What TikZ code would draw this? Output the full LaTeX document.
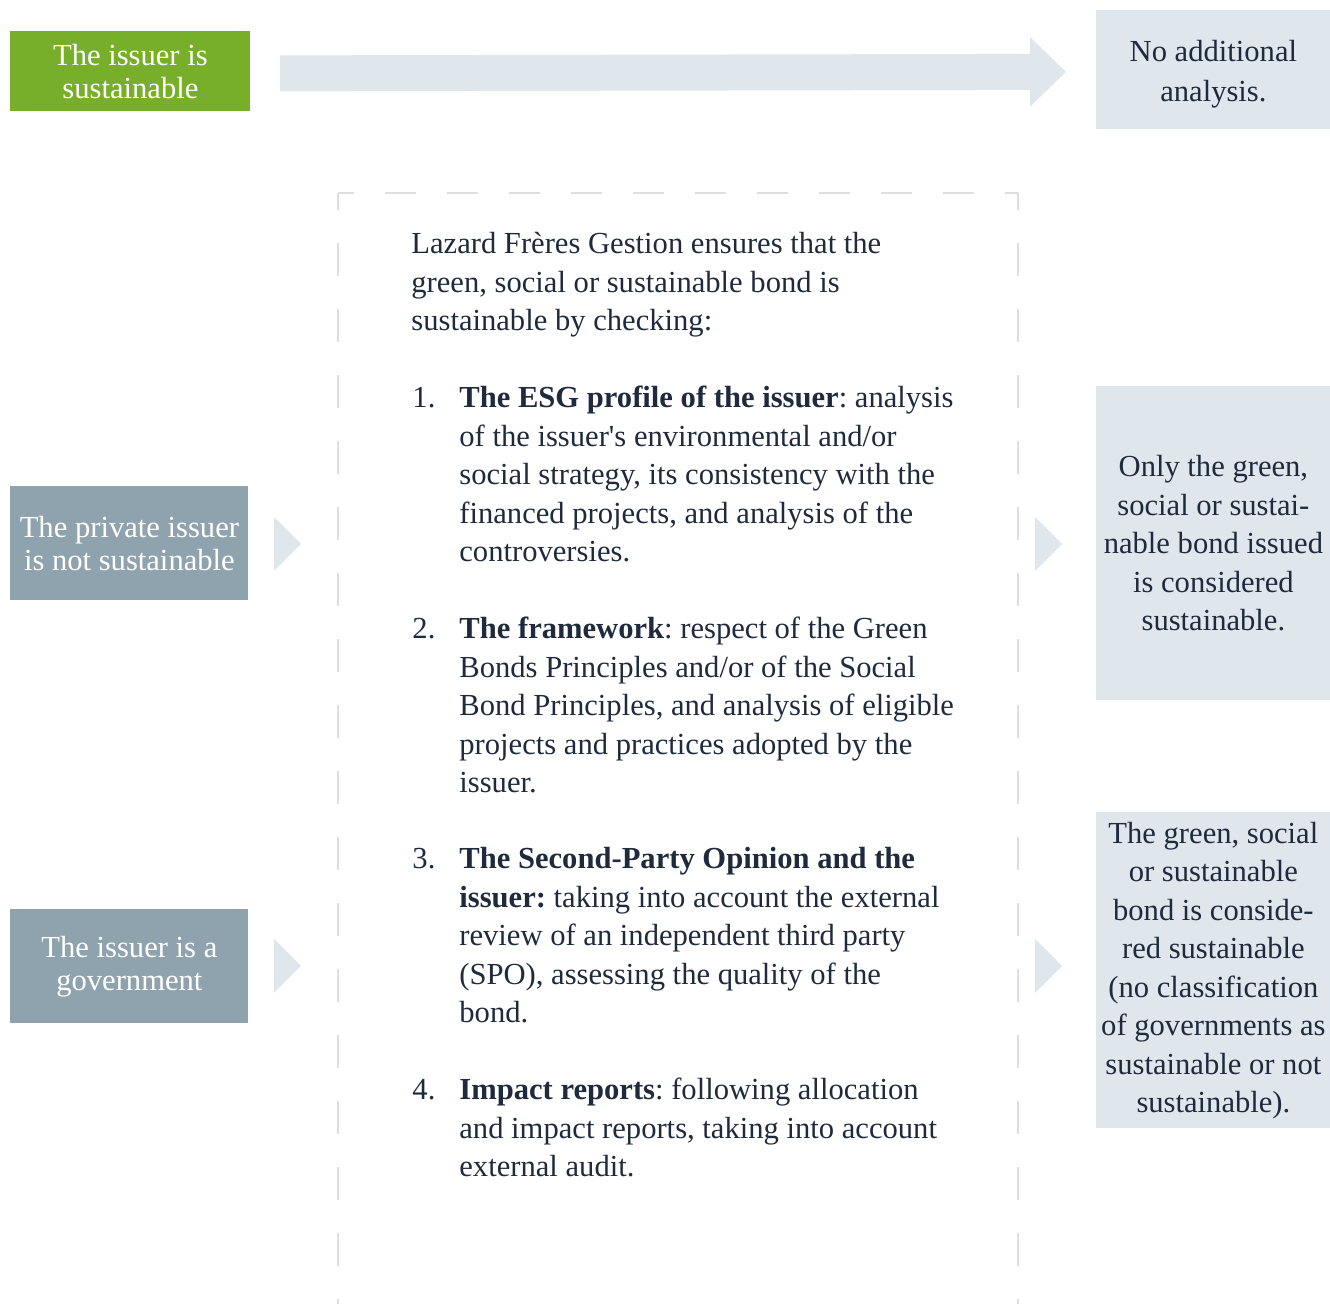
\documentclass[tikz,border=0pt]{standalone}
\usepackage{fontspec}
\setmainfont{Liberation Serif}
\usetikzlibrary{calc}

\definecolor{issuergreen}{HTML}{77AF2B}
\definecolor{issuergrey}{HTML}{8FA3AE}
\definecolor{resultblue}{HTML}{DFE6EC}
\definecolor{framegrey}{HTML}{DEDEDE}
\definecolor{textnavy}{HTML}{1F2B3D}

\newcommand{\bodyfont}{\fontsize{15.3}{19.25}\selectfont}
\frenchspacing

\begin{document}
\begin{tikzpicture}[x=0.5pt,y=-0.5pt,line join=round,
		box/.style={inner sep=0pt,align=center,anchor=north west,font=\bodyfont},
		issuerbox/.style={box,fill=#1,text=white,font=\fontsize{15.3}{16.5}\selectfont},
		resultbox/.style={box,fill=resultblue,text=textnavy},
		item/.style={inner sep=0pt,align=left,anchor=north west,text=textnavy,font=\bodyfont},
		frameline/.style={framegrey,line width=1pt}]
	\useasboundingbox (0,0) rectangle (1330,1304);

	% left column
	\node[issuerbox=issuergreen,minimum width=120pt,minimum height=40pt] (sust) at (10,31) {The issuer is\\sustainable};
	\node[issuerbox=issuergrey,minimum width=119pt,minimum height=57pt] (priv) at (10,486) {The private issuer\\is not sustainable};
	\node[issuerbox=issuergrey,minimum width=119pt,minimum height=57pt] (gov) at (10,909) {The issuer is a\\government};

	% right column
	\node[resultbox,minimum width=117pt,minimum height=59.5pt,font=\fontsize{15.3}{20}\selectfont] (noan) at (1096,10) {\rule{0pt}{15pt}No additional\\analysis.};
	\node[resultbox,minimum width=117pt,minimum height=157pt] (only) at (1096,386) {Only the green,\\social or sustai-\\nable bond issued\\is considered\\sustainable.};
	\node[resultbox,minimum width=117pt,minimum height=158pt] (bond) at (1096,812) {The green, social\\or sustainable\\bond is conside-\\red sustainable\\(no classification\\of governments as\\sustainable or not\\sustainable).};

	% big arrow
	\fill[resultblue] ($(sust.east)+(29,-16)$) -- ($(noan.west)+(-66,-16)$) -- ($(noan.west)+(-66,-33)$)
		-- ($(noan.west)+(-30,2)$) -- ($(noan.west)+(-66,37)$) -- ($(noan.west)+(-66,20)$) -- ($(sust.east)+(29,20)$) -- cycle;

	% small arrows
	\foreach \x/\y in {274/544,274/966,1035/544,1035/966}{
		\fill[resultblue] (\x,\y-27) -- (\x+27,\y) -- (\x,\y+27) -- cycle;
	}

	% dashed frame
	\draw[frameline,dash pattern=on 16.5pt off 16.5pt,dash phase=8pt] (338,193) -- (338,1304);
	\draw[frameline,dash pattern=on 16.5pt off 16.5pt,dash phase=8pt] (1018,193) -- (1018,1304);
	\draw[frameline,dash pattern=on 15.5pt off 15.5pt,dash phase=7.5pt] (338,193) -- (1018,193);

	% checks
	\node[item] (intro) at (411,232) {Lazard Frères Gestion ensures that the\\green, social or sustainable bond is\\sustainable by checking:};
	\node[item] (esg) at (459,386) {\llap{1.\hspace{12pt}}\textbf{The ESG profile of the issuer}: analysis\\of the issuer\textquotesingle s environmental and/or\\social strategy, its consistency with the\\financed projects, and analysis of the\\controversies.};
	\node[item] (frame) at (459,617) {\llap{2.\hspace{12pt}}\textbf{The framework}: respect of the Green\\Bonds Principles and/or of the Social\\Bond Principles, and analysis of eligible\\projects and practices adopted by the\\issuer.};
	\node[item] (spo) at (459,847) {\llap{3.\hspace{12pt}}\textbf{The Second-Party Opinion and the}\\\textbf{issuer:} taking into account the external\\review of an independent third party\\(SPO), assessing the quality of the\\bond.};
	\node[item] (impact) at (459,1078) {\llap{4.\hspace{12pt}}\textbf{Impact reports}: following allocation\\and impact reports, taking into account\\external audit.};
\end{tikzpicture}
\end{document}
